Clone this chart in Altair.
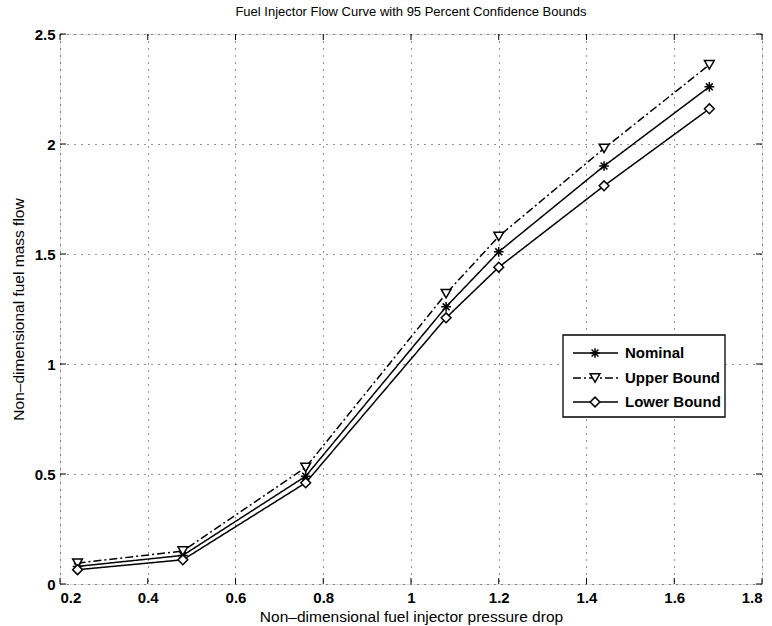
import altair as alt
import pandas as pd

# ---- data ----
pressure = [0.24, 0.48, 0.76, 1.08, 1.20, 1.44, 1.68]
nominal = [0.08, 0.13, 0.49, 1.26, 1.51, 1.90, 2.26]
upper = [0.095, 0.15, 0.53, 1.32, 1.58, 1.98, 2.36]
lower = [0.065, 0.11, 0.46, 1.21, 1.44, 1.81, 2.16]

series_names = ["Nominal", "Upper Bound", "Lower Bound"]
x_ticks = [0.2, 0.4, 0.6, 0.8, 1.0, 1.2, 1.4, 1.6, 1.8]
y_ticks = [0.0, 0.5, 1.0, 1.5, 2.0, 2.5]

rows = []
for name, vals in zip(series_names, [nominal, upper, lower]):
    for xv, yv in zip(pressure, vals):
        rows.append({"x": xv, "y": yv, "series": name})
df = pd.DataFrame(rows)

W, H = 702, 550
FONT = "Liberation Sans"
ASTER = "M-1,0L1,0M0,-1L0,1M-0.7,-0.7L0.7,0.7M-0.7,0.7L0.7,-0.7"

xscale = alt.Scale(domain=[0.2, 1.8], nice=False, zero=False)
yscale = alt.Scale(domain=[0, 2.5], nice=False, zero=False)
dash_scale = alt.Scale(domain=series_names, range=[[1, 0], [8, 3, 2, 3], [1, 0]])
shape_scale = alt.Scale(domain=series_names, range=[ASTER, "triangle-down", "diamond"])

grid_kw = dict(grid=True, gridDash=[1, 6], gridColor="#111", gridWidth=1, gridOpacity=0.9,
               ticks=False, domain=False, labelFont=FONT, labelFontSize=15,
               labelFontWeight="bold", labelColor="black", format="~g",
               titleFont=FONT, titleFontSize=15.5, titleFontWeight="normal", titleColor="black")

lines = alt.Chart(df).mark_line(color="black", strokeWidth=1.5).encode(
    x=alt.X("x:Q", scale=xscale,
            axis=alt.Axis(values=x_ticks, labelPadding=6,
                          title="Non\u2013dimensional fuel injector pressure drop",
                          titleBaseline="alphabetic", titleY=37, titleX=W / 2, **grid_kw)),
    y=alt.Y("y:Q", scale=yscale,
            axis=alt.Axis(values=y_ticks, labelPadding=5,
                          title="Non\u2013dimensional fuel mass flow",
                          titleAngle=270, titleBaseline="middle", titleAlign="center",
                          titleX=-42, titleY=H / 2, **grid_kw)),
    strokeDash=alt.StrokeDash("series:N", scale=dash_scale, legend=None),
    detail="series:N",
)

points = alt.Chart(df).mark_point(fill="white", stroke="black", fillOpacity=1, opacity=1,
                                  strokeWidth=1.5, size=95).encode(
    x=alt.X("x:Q", scale=xscale),
    y=alt.Y("y:Q", scale=yscale),
    shape=alt.Shape("series:N", scale=shape_scale, legend=None),
)

# inward ticks on all four sides
xt = pd.DataFrame({"t": x_ticks})
yt = pd.DataFrame({"t": y_ticks})
tick_style = dict(color="black", strokeWidth=1)
xt_bot = alt.Chart(xt).mark_rule(**tick_style).encode(
    x=alt.X("t:Q", scale=xscale), y=alt.value(H), y2=alt.value(H - 6))
xt_top = alt.Chart(xt).mark_rule(**tick_style).encode(
    x=alt.X("t:Q", scale=xscale), y=alt.value(0), y2=alt.value(6))
yt_left = alt.Chart(yt).mark_rule(**tick_style).encode(
    y=alt.Y("t:Q", scale=yscale), x=alt.value(0), x2=alt.value(6))
yt_right = alt.Chart(yt).mark_rule(**tick_style).encode(
    y=alt.Y("t:Q", scale=yscale), x=alt.value(W), x2=alt.value(W - 6))

# manual legend box
leg_df = pd.DataFrame({"series": series_names})
box = alt.Chart(leg_df.head(1)).mark_rect(fill="white", stroke="black", strokeWidth=1.3).encode(
    x=alt.value(503), x2=alt.value(665), y=alt.value(301), y2=alt.value(383))
legend_layers = [box]
row_y = [319, 344, 368]
for name, ry in zip(series_names, row_y):
    d = leg_df[leg_df.series == name]
    legend_layers.append(alt.Chart(d).mark_rule(color="black", strokeWidth=1.5).encode(
        x=alt.value(513), x2=alt.value(558), y=alt.value(ry),
        strokeDash=alt.StrokeDash("series:N", scale=dash_scale, legend=None)))
    legend_layers.append(alt.Chart(d).mark_point(fill="white", stroke="black", fillOpacity=1,
                                                 opacity=1, strokeWidth=1.5, size=95).encode(
        x=alt.value(535), y=alt.value(ry),
        shape=alt.Shape("series:N", scale=shape_scale, legend=None)))
    legend_layers.append(alt.Chart(d).mark_text(align="left", baseline="middle", font=FONT,
                                                fontSize=15, fontWeight="bold", color="black").encode(
        x=alt.value(565), y=alt.value(ry), text="series:N"))

chart = alt.layer(lines, points, xt_bot, xt_top, yt_left, yt_right, *legend_layers).properties(
    width=W, height=H,
    title=alt.TitleParams("Fuel Injector Flow Curve with 95 Percent Confidence Bounds",
                          font=FONT, fontSize=13, fontWeight="normal", color="black",
                          anchor="middle", offset=8),
    autosize=alt.AutoSizeParams(type="none"),
    padding={"left": 60, "top": 34, "right": 10, "bottom": 42},
).configure_view(stroke="black", strokeWidth=1.3).configure(background="white")

chart.save("out.html", embed_options={"renderer": "svg", "actions": False})
